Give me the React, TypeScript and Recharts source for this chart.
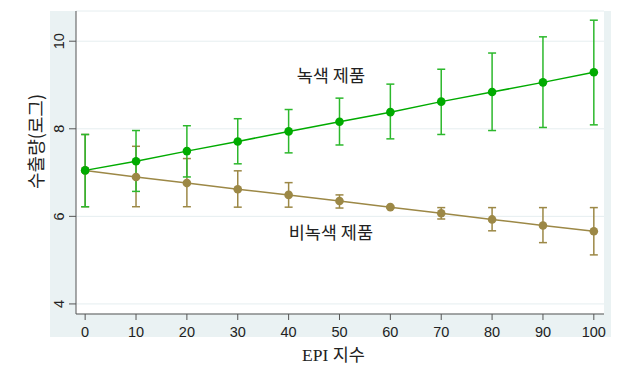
import {
  ComposedChart,
  Line,
  ErrorBar,
  CartesianGrid,
  XAxis,
  YAxis,
  ReferenceDot,
} from "recharts";

const epi = [0, 10, 20, 30, 40, 50, 60, 70, 80, 90, 100];
const greenMid = [7.05, 7.26, 7.49, 7.71, 7.94, 8.16, 8.38, 8.62, 8.84, 9.06, 9.29];
const greenLo = [6.22, 6.57, 6.9, 7.2, 7.45, 7.63, 7.77, 7.87, 7.96, 8.03, 8.09];
const greenHi = [7.87, 7.96, 8.07, 8.23, 8.44, 8.7, 9.02, 9.36, 9.73, 10.1, 10.48];
const brownMid = [7.05, 6.9, 6.76, 6.62, 6.49, 6.35, 6.21, 6.07, 5.93, 5.79, 5.66];
const brownLo = [6.22, 6.22, 6.22, 6.21, 6.21, 6.19, 6.19, 5.94, 5.67, 5.4, 5.12];
const brownHi = [7.87, 7.6, 7.32, 7.04, 6.77, 6.49, 6.23, 6.2, 6.2, 6.2, 6.2];
const xTicks = [0, 10, 20, 30, 40, 50, 60, 70, 80, 90, 100];
const yTicks = [4, 6, 8, 10];

const GREEN = "#00ab00";
const BROWN = "#9c8846";
const AXIS = "#555";

const data = epi.map((x, i) => ({
  epi: x,
  green: greenMid[i],
  greenErr: [greenMid[i] - greenLo[i], greenHi[i] - greenMid[i]],
  brown: brownMid[i],
  brownErr: [brownMid[i] - brownLo[i], brownHi[i] - brownMid[i]],
}));

const YTick = ({ y, payload }: any) => (
  <text
    transform={`translate(63.5, ${y}) rotate(-90)`}
    textAnchor="middle"
    fontSize={14.5}
    fontFamily="'Liberation Sans', Arial, sans-serif"
    fill="#222"
  >
    {payload.value}
  </text>
);

const noteStyle = {
  fontSize: 17.5,
  fontFamily: "'Noto Sans CJK KR', sans-serif",
  fill: "#222",
};

export default function App() {
  return (
    <div style={{ position: "absolute", left: 0, top: 0, width: 621, height: 367, background: "#fff" }}>
      <div style={{ position: "absolute", left: 50, top: 11, width: 561, height: 326, background: "#eaf2f3" }} />
      <div style={{ position: "absolute", left: 0, top: 0 }}>
        <ComposedChart width={621} height={367} data={data} margin={{ top: 11, right: 17, left: 0, bottom: 0 }}>
          <CartesianGrid vertical={false} fill="#fff" stroke="#e6eef0" strokeWidth={1} />
          <XAxis
            dataKey="epi"
            type="number"
            domain={[-1.8, 102]}
            ticks={xTicks}
            interval={0}
            height={53}
            tickSize={6}
            tickMargin={7}
            stroke={AXIS}
            tick={{ fontSize: 14.5, fontFamily: "'Liberation Sans', Arial, sans-serif", fill: "#222" }}
          />
          <YAxis
            type="number"
            domain={[3.77, 10.69]}
            ticks={yTicks}
            allowDataOverflow
            width={76}
            tickSize={7}
            stroke={AXIS}
            tick={<YTick />}
          />
          <Line
            dataKey="brown"
            stroke={BROWN}
            strokeWidth={1.5}
            dot={{ r: 4.3, fill: BROWN, stroke: BROWN, strokeWidth: 0 }}
            isAnimationActive={false}
          >
            <ErrorBar dataKey="brownErr" width={4} stroke={BROWN} strokeWidth={1.5} />
          </Line>
          <Line
            dataKey="green"
            stroke={GREEN}
            strokeWidth={1.5}
            dot={{ r: 4.3, fill: GREEN, stroke: GREEN, strokeWidth: 0 }}
            isAnimationActive={false}
          >
            <ErrorBar dataKey="greenErr" width={4} stroke="#2cb82c" strokeWidth={1.5} />
          </Line>
          <ReferenceDot
            x={48.3}
            y={9.2}
            r={0}
            stroke="none"
            label={{ value: "녹색 제품", position: "center", ...noteStyle }}
          />
          <ReferenceDot
            x={48.3}
            y={5.62}
            r={0}
            stroke="none"
            label={{ value: "비녹색 제품", position: "center", ...noteStyle }}
          />
        </ComposedChart>
      </div>
      <svg width={621} height={367} style={{ position: "absolute", left: 0, top: 0, pointerEvents: "none" }}>
        <text
          transform="translate(35, 141.5) rotate(-90)"
          textAnchor="middle"
          dominantBaseline="central"
          fontSize={18}
          fontFamily="'Noto Sans CJK KR', sans-serif"
          fill="#222"
        >
          수출량(로그)
        </text>
        <text
          x={333.5}
          y={355}
          textAnchor="middle"
          dominantBaseline="central"
          fontSize={17.5}
          fontFamily="'Liberation Serif', 'Noto Sans CJK KR', serif"
          fill="#222"
        >
          EPI 지수
        </text>
      </svg>
    </div>
  );
}
